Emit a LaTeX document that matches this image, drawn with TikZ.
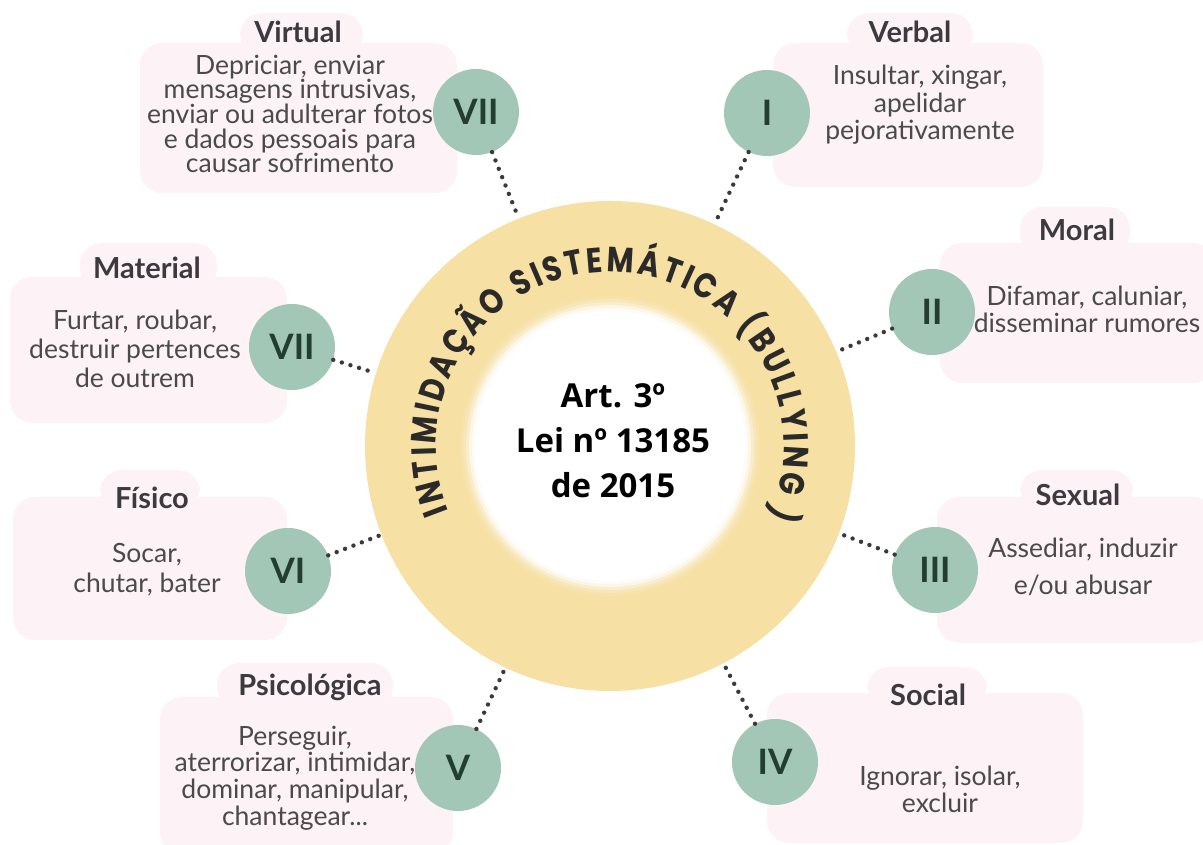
\documentclass[tikz,border=0pt]{standalone}
\usepackage{fontspec}
\setmainfont{Lato}
\newfontfamily\ringfont{Poppins}[FakeStretch=0.84]
\newfontfamily\ctrfont{Open Sans}
\usetikzlibrary{decorations.text,calc}
\definecolor{pinkbg}{HTML}{FDF3F7}
\definecolor{sage}{HTML}{A3C7B7}
\definecolor{numgreen}{HTML}{233D2E}
\definecolor{ringcol}{HTML}{F6E0A3}
\definecolor{dotcol}{HTML}{3A3A3A}
\definecolor{bodycol}{HTML}{4A4A4A}
\definecolor{titlecol}{HTML}{3D3A3F}
\definecolor{ringtext}{HTML}{2B2A28}
\tikzset{
  pinkbox/.style={fill=pinkbg, rounded corners=22pt, draw=none, inner sep=0pt},
  numcircle/.style={circle, fill=sage, minimum size=86pt, inner sep=0pt,
    font=\fontsize{35}{35}\selectfont\bfseries, text=numgreen},
  ttl/.style={font=\fontsize{29}{32}\selectfont\bfseries, text=titlecol, inner sep=0pt},
  bodytxt/.style={font=\fontsize{26.5}{27}\selectfont, text=bodycol, align=center, inner sep=0pt},
  dotline/.style={draw=dotcol, line width=4.4pt, line cap=round, dash pattern=on 0pt off 9pt},
}
\begin{document}
\begin{tikzpicture}[x=1pt,y=1pt]
\useasboundingbox (0,0) rectangle (1203,845);
\clip (0,0) rectangle (1203,845);
\fill[white] (0,0) rectangle (1203,845);

% pink boxes
\node[pinkbox, minimum width=317pt, minimum height=150pt] (bxVirtual) at (298.5,727) {};
\node[pinkbox, minimum width=123pt, minimum height=42pt] (tbVirtual) at (301.5,811) {};
\node[pinkbox, minimum width=270pt, minimum height=144pt] (bxVerbal) at (908,730) {};
\node[pinkbox, minimum width=126pt, minimum height=42pt] (tbVerbal) at (910,811) {};
\node[pinkbox, minimum width=277pt, minimum height=146pt] (bxMaterial) at (148.5,495) {};
\node[pinkbox, minimum width=137pt, minimum height=47pt] (tbMaterial) at (148.5,578.5) {};
\node[pinkbox, minimum width=274pt, minimum height=143pt] (bxFisico) at (150,276.5) {};
\node[pinkbox, minimum width=100pt, minimum height=39pt] (tbFisico) at (150,355.5) {};
\node[pinkbox, minimum width=275pt, minimum height=140pt] (bxMoral) at (1077.5,532) {};
\node[pinkbox, minimum width=110pt, minimum height=48pt] (tbMoral) at (1075,614) {};
\node[pinkbox, minimum width=278pt, minimum height=146pt] (bxSexual) at (1076,275) {};
\node[pinkbox, minimum width=113pt, minimum height=39pt] (tbSexual) at (1076.5,355.5) {};
\node[pinkbox, minimum width=293pt, minimum height=158pt] (bxPsico) at (306.5,69) {};
\node[pinkbox, minimum width=176pt, minimum height=46pt] (tbPsico) at (305,159) {};
\node[pinkbox, minimum width=316pt, minimum height=150pt] (bxSocial) at (925,77) {};
\node[pinkbox, minimum width=120pt, minimum height=38pt] (tbSocial) at (927,159) {};

% titles
\node[ttl] (tVirtual) at (298,813) {Virtual};
\node[ttl] (tVerbal) at (910,813) {Verbal};
\node[ttl] (tMoral) at (1077,615) {Moral};
\node[ttl] (tSexual) at (1078,350) {Sexual};
\node[ttl] (tSocial) at (928,150) {Social};
\node[ttl] (tPsico) at (310,158) {Psicológica};
\node[ttl] (tFisico) at (152,347) {Físico};
\node[ttl] (tMaterial) at (147,577) {Material};

% body texts
\node[bodytxt, font=\fontsize{26.5}{24.7}\selectfont] (xVirtual) at (290,731) {Depriciar, enviar\\mensagens intrusivas,\\enviar ou adulterar fotos\\e dados pessoais para\\causar sofrimento};
\node[bodytxt, font=\fontsize{26.5}{27.5}\selectfont] (xVerbal) at (920,740) {Insultar, xingar,\\apelidar\\pejorativamente};
\node[bodytxt] (xMoral) at (1087,536) {Difamar, caluniar,\\disseminar rumores};
\node[bodytxt, font=\fontsize{26.5}{37}\selectfont] (xSexual) at (1083,278) {Assediar, induzir\\e/ou abusar};
\node[bodytxt] (xSocial) at (940,56) {Ignorar, isolar,\\excluir};
\node[bodytxt, font=\fontsize{26.5}{26.7}\selectfont] (xPsico) at (295,67) {Perseguir,\\aterrorizar, intimidar,\\dominar, manipular,\\chantagear...};
\node[bodytxt, font=\fontsize{26.5}{30}\selectfont] (xFisico) at (147,275) {Socar,\\chutar, bater};
\node[bodytxt, font=\fontsize{26.5}{29}\selectfont] (xMaterial) at (135,496) {Furtar, roubar,\\destruir pertences\\de outrem};

% ring
\coordinate (C) at (610,399);
\node[circle, fill=ringcol, minimum size=490pt, inner sep=0pt] (ring) at (C) {};
\foreach \rr/\op in {150/0.08, 147/0.16, 144/0.3, 141/0.5, 138/0.75}{
  \fill[white, opacity=\op] (C) circle[radius=\rr];
}
\node[circle, fill=white, minimum size=270pt, inner sep=0pt] (hole) at (C) {};
\node[font=\ctrfont\bfseries\fontsize{33}{45}\selectfont, align=center, text=black] (ctr) at (613,404) {Art. 3º\\Lei nº 13185\\de 2015};

\path[decorate, decoration={text along path, text color=ringtext,
  text={|\ringfont\bfseries\fontsize{35}{35}\selectfont|INTIMIDAÇÃO SISTEMÁTICA (BULLYING )},
  text align=fit to path}]
  ($(C)+(202:174)$) arc[start angle=202, end angle=-24, radius=174];

% numeral circles
\node[numcircle] (cVIIa) at (476,733) {VII};
\node[numcircle] (cI) at (767,732) {I};
\node[numcircle] (cII) at (932,533) {II};
\node[numcircle] (cIII) at (935,275) {III};
\node[numcircle] (cIV) at (775,83) {IV};
\node[numcircle] (cV) at (458,77) {V};
\node[numcircle] (cVI) at (288,274) {VI};
\node[numcircle] (cVIIb) at (292,498) {VII};

% connectors
\foreach \n in {cVIIa,cI,cII,cIII,cIV,cV,cVI,cVIIb}{
  \draw[dotline] (\n) -- (ring);
}
\end{tikzpicture}
\end{document}
